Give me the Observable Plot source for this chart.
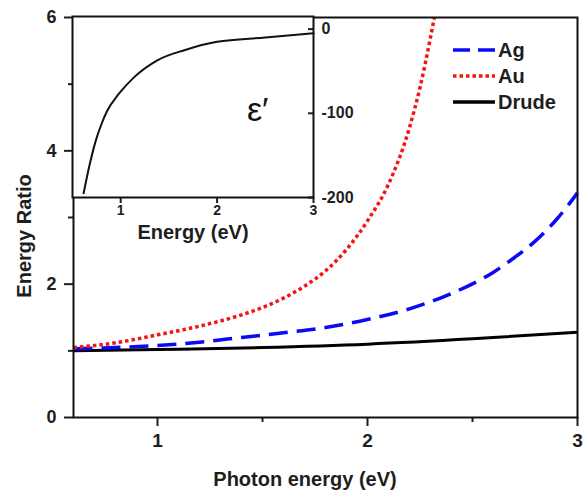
<!DOCTYPE html>
<html><head><meta charset="utf-8">
<script src="https://cdn.jsdelivr.net/npm/d3@7"></script>
<script src="https://cdn.jsdelivr.net/npm/@observablehq/plot@0.6"></script>
<style>
body{margin:0;background:#fff}
#wrap{position:relative;width:583px;height:492px}
#wrap svg{position:absolute;left:0;top:0}
</style>
</head><body><div id="wrap"></div>
<script>
// ---- data ----
const drudeX = [0.6, 1.0, 1.5, 2.0, 2.5, 3.0];
const drudeY = [1.0, 1.02, 1.05, 1.10, 1.18, 1.28];

const agX = [0.6, 0.8, 1.0, 1.2, 1.4, 1.6, 1.8, 2.0, 2.2, 2.4, 2.6, 2.7, 2.8, 2.9, 3.0];
const agY = [1.03, 1.05, 1.08, 1.13, 1.2, 1.27, 1.35, 1.47, 1.63, 1.86, 2.18, 2.4, 2.65, 2.97, 3.37];

const auX = [0.6, 0.8, 1.0, 1.2, 1.4, 1.5, 1.6, 1.7, 1.8, 1.9, 2.0, 2.1, 2.2, 2.25, 2.3, 2.33];
const auY = [1.05, 1.12, 1.24, 1.37, 1.54, 1.65, 1.79, 1.97, 2.2, 2.52, 2.95, 3.5, 4.35, 4.95, 5.7, 6.2];

const epsX = [0.615, 0.68, 0.74, 0.8, 0.86, 0.98, 1.14, 1.38, 1.66, 2.0, 2.5, 3.0];
const epsY = [-195, -160, -133, -113, -97, -77, -57, -37, -25, -15, -10, -5];

const xTicks = [1, 2, 3];
const xMinor = [1.5, 2.5];
const yTicks = [0, 2, 4, 6];
const yMinor = [1, 3, 5];
const insetXTicks = [1, 2, 3];
const insetYTicks = [0, -100, -200];

const seriesNames = ["Ag", "Au", "Drude"];
const xTitle = "Photon energy (eV)";
const yTitle = "Energy Ratio";
const insetXTitle = "Energy (eV)";
const insetYTitle = "ε′";

const FONT = "'Liberation Sans', Arial, Helvetica, sans-serif";
const zip = (xs, ys) => xs.map((x, i) => ({x, y: ys[i]}));
const drude = zip(drudeX, drudeY);
const ag = zip(agX, agY);
const au = zip(auX, auY);
const eps = zip(epsX, epsY);
const fmt = d => String(d);
const none = () => "";

const BLUE = "#0a0af5", RED = "#f51414", BLACK = "#000";
const INK = "#1e1e1e";

const main = Plot.plot({
  width: 583, height: 492,
  marginLeft: 73, marginRight: 6, marginTop: 17, marginBottom: 75,
  style: {fontFamily: FONT, fontSize: "20px", fontWeight: "bold", color: INK, background: "white", overflow: "visible"},
  x: {domain: [0.6, 3]},
  y: {domain: [0, 6]},
  marks: [
    Plot.axisX(xTicks, {tickSize: 9, strokeWidth: 2, tickFormat: none, label: null}),
    Plot.axisX(xTicks, {tickSize: 0, tickPadding: 16, fontSize: 19, tickFormat: fmt, label: null}),
    Plot.axisX(xMinor, {tickSize: 5, strokeWidth: 2, tickFormat: none, label: null}),
    Plot.axisY(yTicks, {tickSize: 9, strokeWidth: 2, tickFormat: none, label: null}),
    Plot.axisY(yTicks, {tickSize: 0, tickPadding: 17, fontSize: 18, tickFormat: fmt, label: null}),
    Plot.axisY(yMinor, {tickSize: 5, strokeWidth: 2, tickFormat: none, label: null}),
    Plot.line(drude, {x: "x", y: "y", stroke: BLACK, strokeWidth: 3, strokeLinecap: "butt", curve: "monotone-x"}),
    Plot.line(ag, {x: "x", y: "y", stroke: BLUE, strokeWidth: 3.5, strokeLinecap: "butt", strokeDasharray: "19,9", curve: "monotone-x"}),
    Plot.line(au, {x: "x", y: "y", stroke: RED, strokeWidth: 3.5, strokeLinecap: "butt", strokeDasharray: "3.5,3", curve: "monotone-x", clip: true}),
    Plot.frame({stroke: "#111", strokeWidth: 2})
  ]
});

const ms = d3.select(main);
// axis titles
const tg = ms.append("g").attr("font-family", FONT).attr("font-weight", "bold").attr("font-size", 20).attr("fill", INK).attr("text-anchor", "middle");
tg.append("text").attr("x", 305).attr("y", 479).attr("dy", "0.35em").text(xTitle);
tg.append("text").attr("transform", "translate(24,236) rotate(-90)").attr("dy", "0.35em").text(yTitle);

// legend
const lg = ms.append("g").attr("font-family", FONT).attr("font-weight", "bold")
  .attr("font-size", 20).attr("fill", INK).attr("text-anchor", "start");
const legendStyles = [
  {stroke: BLUE, dash: "17,8", width: 3.5},
  {stroke: RED, dash: "3.5,3", width: 3.5},
  {stroke: BLACK, dash: null, width: 3.5}
];
seriesNames.forEach((name, i) => {
  const y = 50 + i * 26;
  const s = legendStyles[i];
  lg.append("line").attr("x1", 453).attr("x2", 495).attr("y1", y).attr("y2", y)
    .attr("stroke", s.stroke).attr("stroke-width", s.width).attr("stroke-dasharray", s.dash);
  lg.append("text").attr("x", 498).attr("y", y).attr("dy", "0.35em").attr("text-anchor", "start").text(name);
});

const inset = Plot.plot({
  width: 360, height: 250,
  marginLeft: 72, marginRight: 47, marginTop: 16, marginBottom: 53,
  style: {fontFamily: FONT, fontSize: "20px", fontWeight: "bold", color: INK, background: "transparent", overflow: "visible"},
  x: {domain: [0.5, 3]},
  y: {domain: [-200, 15]},
  marks: [
    Plot.frame({fill: "white"}),
    Plot.axisX(insetXTicks, {tickSize: 6, strokeWidth: 2, tickFormat: none,
      label: insetXTitle, labelAnchor: "center", labelOffset: 41, labelArrow: "none"}),
    Plot.axisX(insetXTicks, {tickSize: 0, tickPadding: 8, fontSize: 14, tickFormat: fmt, label: null}),
    Plot.axisY(insetYTicks, {anchor: "right", tickSize: 0, tickPadding: 8, fontSize: 16, tickFormat: fmt, label: null}),
    Plot.axisY(insetYTicks, {anchor: "right", tickSize: 6, dx: -6, strokeWidth: 2, tickFormat: none, label: null}),
    Plot.line(eps, {x: "x", y: "y", stroke: "#111", strokeWidth: 2, curve: "monotone-x"}),
    Plot.text([insetYTitle], {text: d => d, frameAnchor: "right", dx: -45, dy: 3, fontSize: 34, fontWeight: "normal", fill: "#111"}),
    Plot.frame({stroke: "#111", strokeWidth: 2})
  ]
});

const wrap = document.getElementById("wrap");
wrap.appendChild(main);
wrap.appendChild(inset);
</script>
</body></html>
